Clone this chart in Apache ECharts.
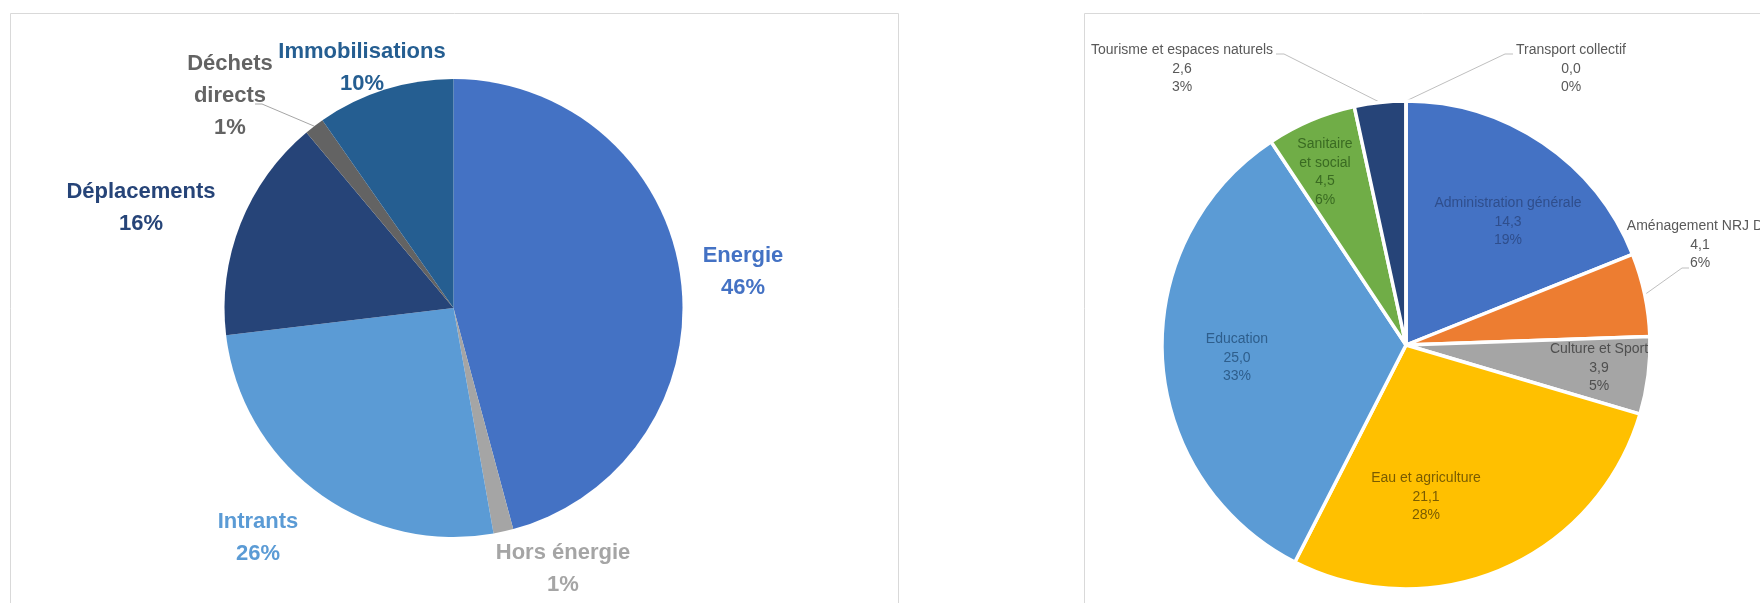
<!DOCTYPE html>
<html>
<head>
<meta charset="utf-8">
<script src="https://cdn.jsdelivr.net/npm/echarts@6/dist/echarts.min.js"></script>
<style>
  html, body { margin: 0; padding: 0; background: #ffffff; }
  #chart { width: 1760px; height: 603px; }
</style>
</head>
<body>
<div id="chart"></div>
<script>
// Émissions par poste (en %)
const posteNames = ['Energie', 'Hors énergie', 'Intrants', 'Déplacements', 'Déchets directs', 'Immobilisations'];
const posteValues = [45.8, 1.4, 25.9, 15.8, 1.4, 9.7];

// Émissions par compétence
const competenceNames = [
  'Administration générale', 'Aménagement NRJ DD', 'Culture et Sport', 'Eau et agriculture',
  'Education', 'Sanitaire et social', 'Tourisme et espaces naturels', 'Transport collectif'
];
const competenceValues = [14.26, 4.146, 3.86, 21.06, 24.96, 4.46, 2.56, 0.0];

// Palette
const posteColors = ['#4472C4', '#A5A5A5', '#5B9BD5', '#264478', '#636363', '#255E91'];
const competenceColors = ['#4472C4', '#ED7D31', '#A5A5A5', '#FFC000', '#5B9BD5', '#70AD47', '#264478', '#9E480E'];
const competenceLabelColors = ['#2F4E8C', '#595959', '#4F4F4F', '#7A5C00', '#2E5E8C', '#3A6B22', '#595959', '#595959'];

// Label placement (centre of each text block, in px)
const posteLabelPos = [[743, 272], [563, 569], [258, 538], [141, 208], [230, 96], [362, 68]];
const competenceLabelPos = [[1508, 222], [1700, 245], [1599, 368], [1426, 497], [1237, 358], [1325, 172], [1182, 69], [1571, 69]];
// Leader line stubs near the label text: [bend, end]
const posteLeaders = { 4: [[262, 104], [255, 104]] };
const competenceLeaders = {
  1: [[1682, 268], [1689, 268]],
  6: [[1284, 54], [1276, 54]],
  7: [[1505, 54], [1513, 54]]
};
// Names drawn on two lines inside narrow slices
const wrapped = new Set(['Déchets directs', 'Sanitaire et social']);

const competenceTotal = competenceValues.reduce((a, b) => a + b, 0);
const fmtNum = v => v.toFixed(1).replace('.', ',');
const labelName = n => wrapped.has(n) ? n.replace(' ', '\n').replace(/^(\S+)\n(et) /, '$1\n$2 ') : n;

const posteData = posteNames.map((name, i) => ({
  name,
  value: posteValues[i],
  itemStyle: { color: posteColors[i] },
  label: { color: posteColors[i] },
  labelLine: { show: !!posteLeaders[i] }
}));

const competenceData = competenceNames.map((name, i) => ({
  name,
  value: competenceValues[i],
  itemStyle: { color: competenceColors[i] },
  label: { color: competenceLabelColors[i] },
  labelLine: { show: !!competenceLeaders[i] }
}));

function placeLabel(table, leaders) {
  return function (params) {
    const p = table[params.dataIndex];
    const out = { x: p[0], y: p[1], align: 'center', verticalAlign: 'middle' };
    const stub = leaders[params.dataIndex];
    if (stub && params.labelLinePoints && params.labelLinePoints[0]) {
      out.labelLinePoints = [params.labelLinePoints[0], stub[0], stub[1]];
    }
    return out;
  };
}

const chart = echarts.init(document.getElementById('chart'), null, { renderer: 'canvas' });

chart.setOption({
  backgroundColor: '#ffffff',
  animation: false,
  graphic: [
    { type: 'rect', shape: { x: 10.5, y: 13.5, width: 888, height: 620 }, style: { fill: 'none', stroke: '#D9D9D9', lineWidth: 1 }, silent: true },
    { type: 'rect', shape: { x: 1084.5, y: 13.5, width: 720, height: 620 }, style: { fill: 'none', stroke: '#D9D9D9', lineWidth: 1 }, silent: true }
  ],
  series: [
    {
      type: 'pie',
      center: [453.5, 308],
      radius: [0, 229],
      startAngle: 90,
      clockwise: true,
      avoidLabelOverlap: false,
      itemStyle: { borderWidth: 0 },
      label: {
        show: true,
        position: 'outside',
        fontFamily: 'Liberation Sans',
        fontWeight: 'bold',
        fontSize: 22,
        lineHeight: 32,
        formatter: p => labelName(p.name) + '\n' + Math.round(p.value) + '%'
      },
      labelLine: { show: true, length: 8, length2: 8, lineStyle: { color: '#A6A6A6', width: 1 } },
      labelLayout: placeLabel(posteLabelPos, posteLeaders),
      emphasis: { disabled: true },
      data: posteData
    },
    {
      type: 'pie',
      center: [1406, 345],
      radius: [0, 244],
      startAngle: 90,
      clockwise: true,
      avoidLabelOverlap: false,
      stillShowZeroSum: true,
      itemStyle: { borderColor: '#ffffff', borderWidth: 3.5 },
      label: {
        show: true,
        position: 'outside',
        fontFamily: 'Liberation Sans',
        fontSize: 14,
        lineHeight: 18.5,
        formatter: p => labelName(p.name) + '\n' + fmtNum(p.value) + '\n' + Math.round(p.value / competenceTotal * 100) + '%'
      },
      labelLine: { show: true, length: 8, length2: 8, lineStyle: { color: '#BFBFBF', width: 1 } },
      labelLayout: placeLabel(competenceLabelPos, competenceLeaders),
      emphasis: { disabled: true },
      data: competenceData
    }
  ]
});
</script>
</body>
</html>
